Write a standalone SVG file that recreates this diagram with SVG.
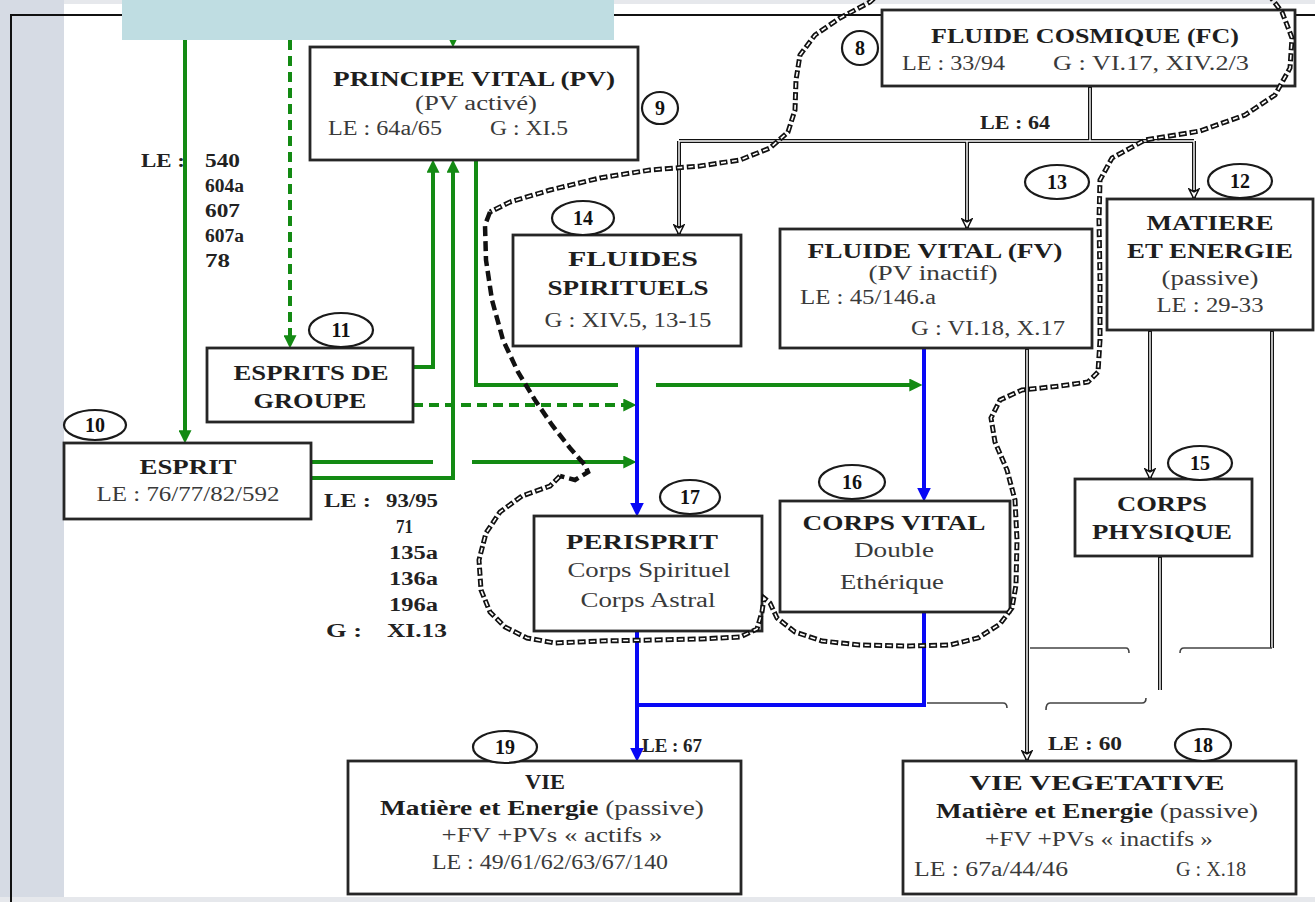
<svg xmlns="http://www.w3.org/2000/svg" width="1315" height="902" viewBox="0 0 1315 902" font-family="'Liberation Serif', 'Times New Roman', serif">
<defs>
<style>
.box{fill:#fff;stroke:#262626;stroke-width:2.8}
.num{fill:#fff;stroke:#1a1a1a;stroke-width:2.2}
text{font-family:"Liberation Serif","Times New Roman",serif;fill:#2a2a2a}
.b{font-weight:bold;font-size:21px;fill:#1e1e1e}
.r{font-size:20px;fill:#3a3a3a}
.n{font-size:20px;font-weight:bold;text-anchor:middle;fill:#111}
.m{text-anchor:middle}
.s{font-weight:bold;font-size:18px;fill:#222}
.g{fill:none;stroke:#138a13;stroke-width:4}
.gd{fill:none;stroke:#138a13;stroke-width:4;stroke-dasharray:10 6}
.bl{fill:none;stroke:#0808f5;stroke-width:4}
.k{fill:none;stroke:#111;stroke-width:4}
.ki{fill:none;stroke:#fff;stroke-width:1.4}
.thin{fill:none;stroke:#444;stroke-width:1.6}
.chain{fill:none;stroke:#111;stroke-width:5;stroke-dasharray:8 3}
.chaini{fill:none;stroke:#fff;stroke-width:1.6;stroke-dasharray:5 6;stroke-dashoffset:-1.5}
.thick{fill:none;stroke:#111;stroke-width:4.5;stroke-dasharray:10 5}
</style>
<marker id="ag" markerUnits="userSpaceOnUse" markerWidth="13" markerHeight="13" viewBox="0 0 12 12" refX="8" refY="6" orient="auto">
<path d="M0,0 L12,6 L0,12 z" fill="#138a13"/>
</marker>
<marker id="ab" markerUnits="userSpaceOnUse" markerWidth="14" markerHeight="14" viewBox="0 0 12 12" refX="8" refY="6" orient="auto">
<path d="M0,0 L12,6 L0,12 z" fill="#0808f5"/>
</marker>
<marker id="ak" markerUnits="userSpaceOnUse" markerWidth="12" markerHeight="12" viewBox="-1 -1 12 12" refX="10" refY="5" orient="auto">
<path d="M0,0 L10,5 L0,10 L3,5 z" fill="#fff" stroke="#111" stroke-width="1.5"/>
</marker>
<path id="loop" d="M560,476 L550,486 L522,496 L500,512 L486,533 L479,560 L481,590 L490,612 L505,627 L527,638 L555,643 L600,641 L650,640 L700,639 L740,637 L757,629 L762,612 L764,598 L770,603 L777,618 L795,632 L822,641 L860,645 L910,646 L950,645 L978,638 L1000,624 L1012,608 L1016,585 L1017,540 L1015,500 L1007,470 L995,442 L991,418 L1000,400 L1022,390 L1060,386 L1088,382 L1098,372 L1100,340 L1100,280 L1099,220 L1100,180 L1112,158 L1145,140 L1200,131 L1245,115 L1275,95 L1290,68 L1292,38 L1282,12 L1265,-10 L1150,-40 L1000,-40 L900,-25 L870,2 L840,18 L815,35 L800,55 L796,80 L795,110 L788,132 L770,148 L740,160 L700,166 L650,170 L600,178 L550,190 L510,202 L490,212"/>
</defs>

<rect width="1315" height="902" fill="#fff"/>
<rect x="0" y="0" width="1315" height="4" fill="#e6e8ec"/>
<rect x="0" y="0" width="64" height="902" fill="#d6dbe4"/>
<rect x="0" y="897" width="1315" height="5" fill="#e6e8ec"/>
<path d="M11,902 V15 H1315" fill="none" stroke="#111" stroke-width="2"/>

<g id="connectors">
<path class="g" d="M185,40 V439" marker-end="url(#ag)"/>
<path class="gd" d="M290,40 V344" marker-end="url(#ag)"/>
<path class="g" d="M453,36 V43" marker-end="url(#ag)"/>
<path class="g" d="M413,367 H433 V164" marker-end="url(#ag)"/>
<path class="g" d="M311,478 H453 V164" marker-end="url(#ag)"/>
<path class="g" d="M476,160 V385 H618"/>
<path class="g" d="M656,385 H918" marker-end="url(#ag)"/>
<path class="gd" d="M413,405 H632" marker-end="url(#ag)"/>
<path class="g" d="M311,462 H433"/>
<path class="g" d="M472,462 H632" marker-end="url(#ag)"/>

<path class="bl" d="M637,346 V512" marker-end="url(#ab)"/>
<path class="bl" d="M924,348 V497" marker-end="url(#ab)"/>
<path class="bl" d="M637,631 V757" marker-end="url(#ab)"/>
<path class="bl" d="M924,612 V705 H637"/>

<path class="k" d="M1090,86 V141"/>
<path class="k" d="M679,141 H1194"/>
<path class="k" d="M679,141 V235" marker-end="url(#ak)"/>
<path class="k" d="M967,141 V229" marker-end="url(#ak)"/>
<path class="k" d="M1194,141 V199" marker-end="url(#ak)"/>
<path class="k" d="M1150,330 V479" marker-end="url(#ak)"/>
<path class="k" d="M1272,330 V648"/>
<path class="k" d="M1027,348 V761" marker-end="url(#ak)"/>
<path class="k" d="M1160,556 V690"/>
<path class="ki" d="M1090,88 V141 M679,141 H1194 M679,141 V226 M967,141 V220 M1194,141 V190 M1150,332 V470 M1272,332 V648 M1027,350 V752 M1160,558 V690"/>
<path class="thin" d="M1030,648 H1126 Q1129,648 1129,653 M1180,653 Q1180,648 1184,648 H1272 M927,703 H1003 Q1007,703 1007,708 M1046,710 Q1046,703 1050,703 H1142 Q1146,703 1146,698"/>
</g>

<rect x="122" y="0" width="492" height="40" fill="#bfdde2"/>

<g id="n9-principe-vital">
<rect class="box" x="310" y="47" width="328" height="113"/>
<text class="b m" x="474" y="86" textLength="282" lengthAdjust="spacingAndGlyphs">PRINCIPE VITAL (PV)</text>
<text class="r m" x="476" y="110" textLength="122" lengthAdjust="spacingAndGlyphs">(PV activé)</text>
<text class="r" x="328" y="135" textLength="114" lengthAdjust="spacingAndGlyphs">LE : 64a/65</text>
<text class="r" x="490" y="135" textLength="78" lengthAdjust="spacingAndGlyphs">G : XI.5</text>
<ellipse class="num" cx="660" cy="108" rx="18" ry="16"/>
<text class="n" x="660" y="115">9</text>
</g>

<g id="n8-fluide-cosmique">
<rect class="box" x="882" y="10" width="413" height="76"/>
<text class="b m" x="1085" y="43" textLength="308" lengthAdjust="spacingAndGlyphs">FLUIDE COSMIQUE (FC)</text>
<text class="r" x="902" y="70" textLength="103" lengthAdjust="spacingAndGlyphs">LE : 33/94</text>
<text class="r" x="1053" y="70" textLength="196" lengthAdjust="spacingAndGlyphs">G : VI.17, XIV.2/3</text>
<ellipse class="num" cx="860" cy="48" rx="18" ry="17"/>
<text class="n" x="860" y="55">8</text>
</g>

<g id="n14-fluides-spirituels">
<rect class="box" x="513" y="235" width="228" height="111"/>
<text class="b m" x="633" y="266" textLength="130" lengthAdjust="spacingAndGlyphs">FLUIDES</text>
<text class="b m" x="628" y="295" textLength="161" lengthAdjust="spacingAndGlyphs">SPIRITUELS</text>
<text class="r m" x="628" y="327" textLength="167" lengthAdjust="spacingAndGlyphs">G : XIV.5, 13-15</text>
<ellipse class="num" cx="583" cy="218" rx="31" ry="17"/>
<text class="n" x="583" y="225">14</text>
</g>

<g id="n13-fluide-vital">
<rect class="box" x="780" y="229" width="312" height="119"/>
<text class="b m" x="935" y="258" textLength="255" lengthAdjust="spacingAndGlyphs">FLUIDE VITAL (FV)</text>
<text class="r m" x="933" y="280" textLength="129" lengthAdjust="spacingAndGlyphs">(PV inactif)</text>
<text class="r" x="800" y="304" textLength="136" lengthAdjust="spacingAndGlyphs">LE : 45/146.a</text>
<text class="r" x="911" y="335" textLength="154" lengthAdjust="spacingAndGlyphs">G : VI.18, X.17</text>
<ellipse class="num" cx="1057" cy="182" rx="32" ry="17"/>
<text class="n" x="1057" y="189">13</text>
</g>

<g id="n12-matiere-energie">
<rect class="box" x="1107" y="199" width="206" height="131"/>
<text class="b m" x="1210" y="230" textLength="127" lengthAdjust="spacingAndGlyphs">MATIERE</text>
<text class="b m" x="1210" y="258" textLength="166" lengthAdjust="spacingAndGlyphs">ET ENERGIE</text>
<text class="r m" x="1210" y="285" textLength="97" lengthAdjust="spacingAndGlyphs">(passive)</text>
<text class="r m" x="1210" y="312" textLength="107" lengthAdjust="spacingAndGlyphs">LE : 29-33</text>
<ellipse class="num" cx="1240" cy="181" rx="32" ry="17"/>
<text class="n" x="1240" y="188">12</text>
</g>

<g id="n11-esprits-de-groupe">
<rect class="box" x="207" y="348" width="206" height="74"/>
<text class="b m" x="311" y="380" textLength="155" lengthAdjust="spacingAndGlyphs">ESPRITS DE</text>
<text class="b m" x="310" y="408" textLength="113" lengthAdjust="spacingAndGlyphs">GROUPE</text>
<ellipse class="num" cx="341" cy="330" rx="32" ry="17"/>
<text class="n" x="341" y="337">11</text>
</g>

<g id="n10-esprit">
<rect class="box" x="64" y="443" width="247" height="76"/>
<text class="b m" x="188" y="474" textLength="97" lengthAdjust="spacingAndGlyphs">ESPRIT</text>
<text class="r m" x="188" y="501" textLength="183" lengthAdjust="spacingAndGlyphs">LE : 76/77/82/592</text>
<ellipse class="num" cx="95" cy="425" rx="31" ry="15"/>
<text class="n" x="95" y="432">10</text>
</g>

<g id="n17-perisprit">
<rect class="box" x="534" y="516" width="228" height="115"/>
<text class="b m" x="642" y="549" textLength="152" lengthAdjust="spacingAndGlyphs">PERISPRIT</text>
<text class="r m" x="649" y="577" textLength="163" lengthAdjust="spacingAndGlyphs">Corps Spirituel</text>
<text class="r m" x="648" y="607" textLength="135" lengthAdjust="spacingAndGlyphs">Corps Astral</text>
<ellipse class="num" cx="690" cy="497" rx="30" ry="17"/>
<text class="n" x="690" y="504">17</text>
</g>

<g id="n16-corps-vital">
<rect class="box" x="780" y="501" width="230" height="111"/>
<text class="b m" x="894" y="530" textLength="183" lengthAdjust="spacingAndGlyphs">CORPS VITAL</text>
<text class="r m" x="894" y="557" textLength="80" lengthAdjust="spacingAndGlyphs">Double</text>
<text class="r m" x="892" y="589" textLength="104" lengthAdjust="spacingAndGlyphs">Ethérique</text>
<ellipse class="num" cx="852" cy="482" rx="33" ry="17"/>
<text class="n" x="852" y="489">16</text>
</g>

<g id="n15-corps-physique">
<rect class="box" x="1075" y="479" width="177" height="77"/>
<text class="b m" x="1162" y="511" textLength="90" lengthAdjust="spacingAndGlyphs">CORPS</text>
<text class="b m" x="1162" y="539" textLength="140" lengthAdjust="spacingAndGlyphs">PHYSIQUE</text>
<ellipse class="num" cx="1200" cy="463" rx="32" ry="17"/>
<text class="n" x="1200" y="470">15</text>
</g>

<g id="n19-vie">
<rect class="box" x="348" y="761" width="393" height="133"/>
<text class="b m" x="545" y="789" textLength="40" lengthAdjust="spacingAndGlyphs">VIE</text>
<text class="m" x="542" y="815" textLength="324" lengthAdjust="spacingAndGlyphs"><tspan class="b" style="font-size:20px">Matière et Energie </tspan><tspan class="r">(passive)</tspan></text>
<text class="r m" x="552" y="842" textLength="221" lengthAdjust="spacingAndGlyphs">+FV +PVs « actifs »</text>
<text class="r m" x="550" y="869" textLength="236" lengthAdjust="spacingAndGlyphs">LE : 49/61/62/63/67/140</text>
<ellipse class="num" cx="505" cy="747" rx="32" ry="16"/>
<text class="n" x="505" y="754">19</text>
</g>

<g id="n18-vie-vegetative">
<rect class="box" x="903" y="761" width="393" height="133"/>
<text class="b m" x="1097" y="790" style="font-size:20px" textLength="255" lengthAdjust="spacingAndGlyphs">VIE VEGETATIVE</text>
<text class="m" x="1097" y="818" textLength="322" lengthAdjust="spacingAndGlyphs"><tspan class="b" style="font-size:20px">Matière et Energie </tspan><tspan class="r">(passive)</tspan></text>
<text class="r m" x="1099" y="846" textLength="228" lengthAdjust="spacingAndGlyphs">+FV +PVs « inactifs »</text>
<text class="r" x="914" y="876" textLength="154" lengthAdjust="spacingAndGlyphs">LE : 67a/44/46</text>
<text class="r" x="1176" y="876" textLength="70" lengthAdjust="spacingAndGlyphs">G : X.18</text>
<ellipse class="num" cx="1203" cy="745" rx="28" ry="16"/>
<text class="n" x="1203" y="752">18</text>
</g>

<g id="boundary">
<use href="#loop" class="chain"/>
<use href="#loop" class="chaini"/>
<path class="thick" d="M490,212 L485,225 L486,260 L492,300 L503,340 L518,372 L535,400 L552,425 L570,448 L585,465 L588,472 L575,480 L560,476"/>
</g>

<g id="labels">
<text class="s" x="141" y="167" textLength="44" lengthAdjust="spacingAndGlyphs">LE :</text>
<text class="s" x="205" y="167" textLength="35" lengthAdjust="spacingAndGlyphs">540</text>
<text class="s" x="205" y="192" textLength="39" lengthAdjust="spacingAndGlyphs">604a</text>
<text class="s" x="205" y="217" textLength="35" lengthAdjust="spacingAndGlyphs">607</text>
<text class="s" x="205" y="242" textLength="39" lengthAdjust="spacingAndGlyphs">607a</text>
<text class="s" x="205" y="267" textLength="25" lengthAdjust="spacingAndGlyphs">78</text>
<text class="s" x="324" y="507" textLength="47" lengthAdjust="spacingAndGlyphs">LE :</text>
<text class="s" x="386" y="507" textLength="52" lengthAdjust="spacingAndGlyphs">93/95</text>
<text class="s" x="396" y="533" textLength="17" lengthAdjust="spacingAndGlyphs">71</text>
<text class="s" x="389" y="559" textLength="49" lengthAdjust="spacingAndGlyphs">135a</text>
<text class="s" x="389" y="585" textLength="49" lengthAdjust="spacingAndGlyphs">136a</text>
<text class="s" x="389" y="611" textLength="49" lengthAdjust="spacingAndGlyphs">196a</text>
<text class="s" x="326" y="637" textLength="36" lengthAdjust="spacingAndGlyphs">G :</text>
<text class="s" x="387" y="637" textLength="60" lengthAdjust="spacingAndGlyphs">XI.13</text>
<text class="s" x="980" y="129" textLength="70" lengthAdjust="spacingAndGlyphs">LE : 64</text>
<text class="s" x="642" y="752" textLength="60" lengthAdjust="spacingAndGlyphs">LE : 67</text>
<text class="s" x="1048" y="750" textLength="74" lengthAdjust="spacingAndGlyphs">LE : 60</text>
</g>
</svg>
